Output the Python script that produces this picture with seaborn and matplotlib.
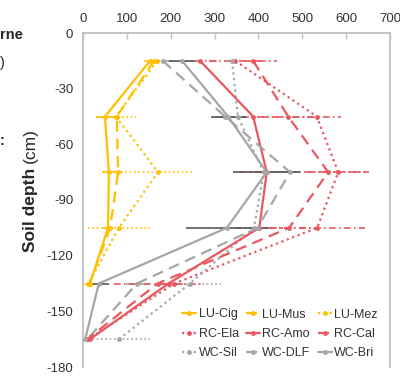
import numpy as np
import pandas as pd
import matplotlib
matplotlib.use("Agg")
import matplotlib.pyplot as plt
import seaborn as sns

# soil depths (cm)
depth = [-15, -45, -75, -105, -135, -165]
depth_lu = depth[:5]

# values (x axis 0-700)
lu_cig = [153, 50, 59, 57, 16]
lu_mus = [162, 77, 80, 62, 15]
lu_mez = [169, 75, 171, 82, 12]
rc_ela = [347, 533, 582, 534, 208, 12]
rc_amo = [267, 388, 419, 402, 195, 16]
rc_cal = [388, 468, 559, 470, 170, 10]
wc_sil = [340, 353, 412, 390, 244, 82]
wc_dlf = [182, 324, 472, 398, 123, 10]
wc_bri = [226, 331, 419, 328, 36, 5]

# half widths of the horizontal error bars
lu_cig_err = [15, 20, 15, 12, 10]
lu_mus_err = [12, 15, 10, 12, 8]
lu_mez_err = [20, 45, 85, 70, 10]
rc_ela_err = [60, 55, 70, 110, 20, 5]
rc_amo_err = [45, 60, 60, 55, 25, 5]
rc_cal_err = [55, 60, 90, 80, 100, 5]
wc_sil_err = [15, 20, 20, 20, 70, 70]
wc_dlf_err = [25, 20, 30, 20, 25, 5]
wc_bri_err = [30, 40, 76, 93, 24, 5]

ORANGE = "#FFC000"
RED = "#E9585F"
GRAY = "#A6A6A6"
DARK = "#595959"
SOLID = "-"
DASH = (0, (5, 3))
DOT = (0, (1, 1.6))
DASHDOT = (0, (4, 2, 1, 2))

# ordered column-wise so the 3-col legend reads row by row
series = [
    ("LU-Cig", lu_cig, lu_cig_err, depth_lu, ORANGE, SOLID, ORANGE, SOLID),
    ("RC-Ela", rc_ela, rc_ela_err, depth, RED, DOT, RED, DASHDOT),
    ("WC-Sil", wc_sil, wc_sil_err, depth, GRAY, DOT, GRAY, DOT),
    ("LU-Mus", lu_mus, lu_mus_err, depth_lu, ORANGE, DASH, ORANGE, DASH),
    ("RC-Amo", rc_amo, rc_amo_err, depth, RED, SOLID, RED, DASHDOT),
    ("WC-DLF", wc_dlf, wc_dlf_err, depth, GRAY, DASH, GRAY, DASH),
    ("LU-Mez", lu_mez, lu_mez_err, depth_lu, ORANGE, DOT, ORANGE, DOT),
    ("RC-Cal", rc_cal, rc_cal_err, depth, RED, DASH, RED, DASHDOT),
    ("WC-Bri", wc_bri, wc_bri_err, depth, GRAY, SOLID, DARK, SOLID),
]

sns.set_style("white")
plt.rcParams["font.family"] = ["Liberation Sans", "DejaVu Sans"]
plt.rcParams["axes.unicode_minus"] = False

fig = plt.figure(figsize=(4, 3.76), dpi=100)
ax = fig.add_axes([83 / 400, 1 - 367 / 376, 307 / 400, 334 / 376])

for name, vals, err, d, col, ls, ecol, els in series:
    df = pd.DataFrame({"x": vals, "y": d})
    eb = ax.errorbar(df["x"], df["y"], xerr=err, fmt="none", ecolor=ecol,
                     elinewidth=1.2, capsize=0, zorder=2)
    for coll in eb[2]:
        coll.set_linestyle(els)
    sns.lineplot(data=df, x="x", y="y", sort=False, estimator=None, ax=ax,
                 color=col, linestyle=ls, linewidth=1.6, marker="o",
                 markersize=3.5, markeredgewidth=0, label=name, zorder=3)

ax.set_xlim(0, 700)
ax.set_ylim(-180, 0)
ax.set_xticks(np.arange(0, 701, 100))
ax.set_yticks(np.arange(-180, 1, 30))
ax.xaxis.tick_top()
ax.tick_params(axis="x", direction="in", length=4, width=1, color="#BFBFBF",
               labelsize=9.5, labelcolor="#333333", pad=6)
ax.tick_params(axis="y", direction="out", length=4, width=1, color="#BFBFBF",
               labelsize=9.5, labelcolor="#333333", pad=3)
ax.set_xlabel("")
ax.set_ylabel("")
for side in ["top", "left", "right"]:
    ax.spines[side].set_color("#BFBFBF")
    ax.spines[side].set_linewidth(1.3)
ax.spines["bottom"].set_visible(False)

leg = ax.legend(ncol=3, loc="lower right", bbox_to_anchor=(0.985, 0.0),
                frameon=False, fontsize=9, handlelength=1.1,
                handletextpad=0.2, columnspacing=0.6, labelspacing=0.6,
                borderaxespad=0.2)
for txt in leg.get_texts():
    txt.set_color("#333333")

# y label: bold "Soil depth" followed by regular "(cm)"
t1 = fig.text(30 / 400, 1 - 252 / 376, "Soil depth ", rotation=90,
              fontsize=12.5, fontweight="bold", ha="center", va="bottom")
fig.canvas.draw()
bb = t1.get_window_extent().transformed(fig.transFigure.inverted())
fig.text(30 / 400, bb.y1, "(cm)", rotation=90, fontsize=12.5,
         ha="center", va="bottom")

# cut-off text of the neighbouring panel
fig.text(0, 1 - 35 / 376, "rne", fontsize=10.5, fontweight="bold",
         ha="left", va="center")
fig.text(0, 1 - 63 / 376, ")", fontsize=10.5, ha="left", va="center")
fig.text(0, 1 - 141 / 376, ":", fontsize=10.5, fontweight="bold",
         ha="left", va="center")

fig.savefig("out.png", dpi=100)
